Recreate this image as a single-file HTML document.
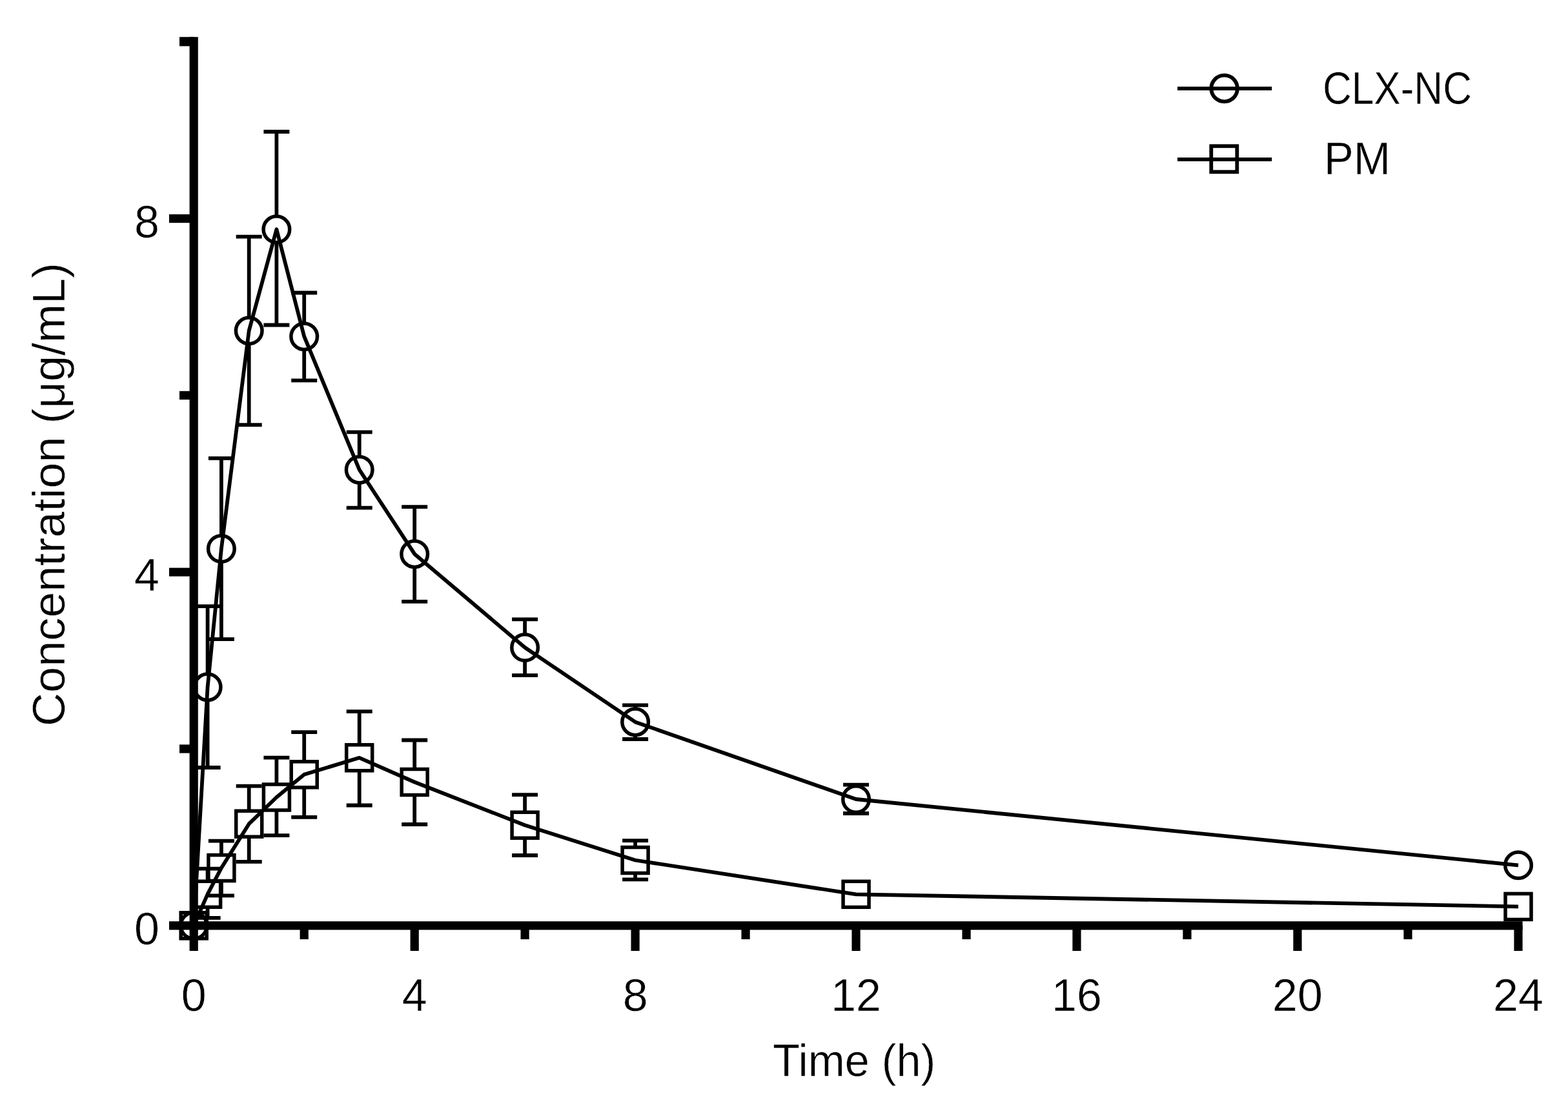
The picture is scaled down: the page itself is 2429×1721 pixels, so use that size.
<!DOCTYPE html>
<html><head><meta charset="utf-8"><title>Plasma concentration-time profile</title>
<style>html,body{margin:0;padding:0;background:#fff;overflow:hidden}svg{display:block}</style></head>
<body>
<svg width="2429" height="1721" viewBox="0 0 2429 1721">
<rect width="2429" height="1721" fill="#fff"/>
<g fill="#000"><rect x="293.6" y="57.3" width="13.2" height="1415.7"/><rect x="262" y="1427.2" width="2096.6" height="13.2"/><rect x="278" y="1153.4" width="22.2" height="13.2"/><rect x="262" y="879.6" width="38.2" height="13.2"/><rect x="278" y="605.8" width="22.2" height="13.2"/><rect x="262" y="332" width="38.2" height="13.2"/><rect x="278" y="57.3" width="22.2" height="14.2"/><rect x="464.6" y="1433.8" width="13.2" height="21.2"/><rect x="635.6" y="1433.8" width="13.2" height="39.2"/><rect x="806.5" y="1433.8" width="13.2" height="21.2"/><rect x="977.5" y="1433.8" width="13.2" height="39.2"/><rect x="1148.5" y="1433.8" width="13.2" height="21.2"/><rect x="1319.5" y="1433.8" width="13.2" height="39.2"/><rect x="1490.5" y="1433.8" width="13.2" height="21.2"/><rect x="1661.4" y="1433.8" width="13.2" height="39.2"/><rect x="1832.4" y="1433.8" width="13.2" height="21.2"/><rect x="2003.4" y="1433.8" width="13.2" height="39.2"/><rect x="2174.4" y="1433.8" width="13.2" height="21.2"/><rect x="2345.4" y="1433.8" width="13.2" height="39.2"/></g>
<g font-family="&apos;Liberation Sans&apos;, Arial, sans-serif" font-size="70" fill="#000" stroke="#fff" stroke-width="0.5"><text x="247" y="1463" text-anchor="end">0</text><text x="247" y="915.4" text-anchor="end">4</text><text x="247" y="367.8" text-anchor="end">8</text><text x="300.2" y="1565.5" text-anchor="middle">0</text><text x="642.2" y="1565.5" text-anchor="middle">4</text><text x="984.1" y="1565.5" text-anchor="middle">8</text><text x="1326.1" y="1565.5" text-anchor="middle">12</text><text x="1668" y="1565.5" text-anchor="middle">16</text><text x="2010" y="1565.5" text-anchor="middle">20</text><text x="2352" y="1565.5" text-anchor="middle">24</text><text x="1323.3" y="1666.8" text-anchor="middle" textLength="252" lengthAdjust="spacingAndGlyphs">Time (h)</text><text transform="translate(99.5 765.9) rotate(-90)" text-anchor="middle" textLength="718" lengthAdjust="spacingAndGlyphs">Concentration (μg/mL)</text><text x="2049" y="161.2" textLength="231" lengthAdjust="spacingAndGlyphs">CLX-NC</text><text x="2051" y="270.2" textLength="103" lengthAdjust="spacingAndGlyphs">PM</text></g>
<g fill="none" stroke="#000" stroke-width="5.8"><path d="M321.6 1365.2V1345.7M301.6 1345.7H341.6M321.6 1405.2V1421.9M301.6 1421.9H341.6M342.9 1324.5V1302.7M322.9 1302.7H362.9M342.9 1364.5V1387.4M322.9 1387.4H362.9M385.7 1256.2V1217.7M365.7 1217.7H405.7M385.7 1296.2V1334.8M365.7 1334.8H405.7M428.4 1215V1173.7M408.4 1173.7H448.4M428.4 1255V1294.2M408.4 1294.2H448.4M471.2 1179.8V1134.1M451.2 1134.1H491.2M471.2 1219.8V1265.8M451.2 1265.8H491.2M556.7 1153.8V1102.2M536.7 1102.2H576.7M556.7 1193.8V1247.5M536.7 1247.5H576.7M642.2 1191.5V1146.5M622.2 1146.5H662.2M642.2 1231.5V1277M622.2 1277H662.2M813.1 1258.2V1231.2M793.1 1231.2H833.1M813.1 1298.2V1325M793.1 1325H833.1M984.1 1312.5V1302.1M964.1 1302.1H1004.1M984.1 1352.5V1362.3M964.1 1362.3H1004.1"/><path d="M321.6 1044.1V939.1M301.6 939.1H341.6M321.6 1084.7V1189M301.6 1189H341.6M342.9 829.7V709.9M322.9 709.9H362.9M342.9 870.3V990.2M322.9 990.2H362.9M385.7 492V366.7M365.7 366.7H405.7M385.7 532.6V658.2M365.7 658.2H405.7M428.4 335V204M408.4 204H448.4M428.4 375.6V503.5M408.4 503.5H448.4M471.2 500.9V453.5M451.2 453.5H491.2M471.2 541.5V589.4M451.2 589.4H491.2M556.7 707.4V669.3M536.7 669.3H576.7M556.7 748V786.6M536.7 786.6H576.7M642.2 837.9V785.2M622.2 785.2H662.2M642.2 878.5V931.8M622.2 931.8H662.2M813.1 982.7V959.4M793.1 959.4H833.1M813.1 1023.3V1046.2M793.1 1046.2H833.1M984.1 1098.1V1092.3M964.1 1092.3H1004.1M984.1 1138.7V1145M964.1 1145H1004.1M1326.1 1217.7V1215.7M1306.1 1215.7H1346.1M1326.1 1258.3V1260M1306.1 1260H1346.1"/></g><g fill="none" stroke="#000" stroke-width="5.8" stroke-linejoin="round"><path d="M300.2 1433.8 L321.6 1385.2 L342.9 1344.5 L385.7 1276.2 L428.4 1235 L471.2 1199.8 L556.7 1173.8 L642.2 1211.5 L813.1 1278.2 L984.1 1332.5 L1326.1 1385.3 L2352 1404.4"/><path d="M300.2 1433.8 L321.6 1064.4 L342.9 850 L385.7 512.3 L428.4 355.3 L471.2 521.2 L556.7 727.7 L642.2 858.2 L813.1 1003 L984.1 1118.4 L1326.1 1238 L2352 1340.3"/></g><g fill="none" stroke="#000" stroke-width="5.5"><rect x="280.2" y="1413.8" width="40" height="40"/><rect x="301.6" y="1365.2" width="40" height="40"/><rect x="322.9" y="1324.5" width="40" height="40"/><rect x="365.7" y="1256.2" width="40" height="40"/><rect x="408.4" y="1215" width="40" height="40"/><rect x="451.2" y="1179.8" width="40" height="40"/><rect x="536.7" y="1153.8" width="40" height="40"/><rect x="622.2" y="1191.5" width="40" height="40"/><rect x="793.1" y="1258.2" width="40" height="40"/><rect x="964.1" y="1312.5" width="40" height="40"/><rect x="1306.1" y="1365.3" width="40" height="40"/><rect x="2332" y="1384.4" width="40" height="40"/><circle cx="300.2" cy="1433.8" r="20.3"/><circle cx="321.6" cy="1064.4" r="20.3"/><circle cx="342.9" cy="850" r="20.3"/><circle cx="385.7" cy="512.3" r="20.3"/><circle cx="428.4" cy="355.3" r="20.3"/><circle cx="471.2" cy="521.2" r="20.3"/><circle cx="556.7" cy="727.7" r="20.3"/><circle cx="642.2" cy="858.2" r="20.3"/><circle cx="813.1" cy="1003" r="20.3"/><circle cx="984.1" cy="1118.4" r="20.3"/><circle cx="1326.1" cy="1238" r="20.3"/><circle cx="2352" cy="1340.3" r="20.3"/></g>
<g fill="none" stroke="#000" stroke-width="5.8"><path d="M1824 137.2H1970.2M1824 246.9H1970.2"/><circle cx="1896.6" cy="137" r="20.3"/><rect x="1876.3" y="226.3" width="40" height="40"/></g>
</svg>
</body></html>
